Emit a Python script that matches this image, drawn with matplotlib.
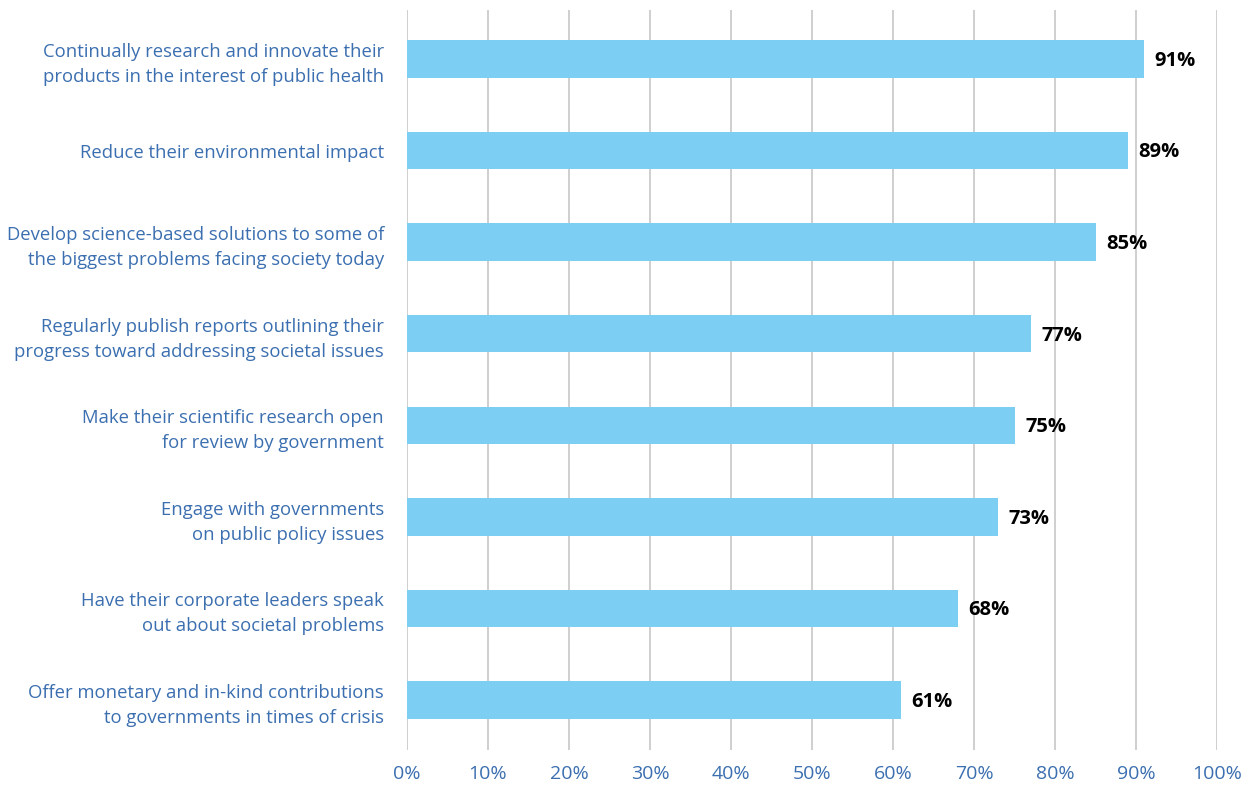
import matplotlib.pyplot as plt

# Share of respondents who say companies should ...
labels = [
    'Continually research and innovate their\nproducts in the interest of public health',
    'Reduce their environmental impact',
    'Develop science-based solutions to some of\nthe biggest problems facing society today',
    'Regularly publish reports outlining their\nprogress toward addressing societal issues',
    'Make their scientific research open\nfor review by government',
    'Engage with governments\non public policy issues',
    'Have their corporate leaders speak\nout about societal problems',
    'Offer monetary and in-kind contributions\nto governments in times of crisis',
]
values = [91, 89, 85, 77, 75, 73, 68, 61]
ticks = [0, 10, 20, 30, 40, 50, 60, 70, 80, 90, 100]

bar_color = '#7dcef3'
text_blue = '#3b6fb0'

plt.rcParams['font.family'] = ['Open Sans', 'DejaVu Sans']

fig = plt.figure(figsize=(12.5, 7.85), dpi=100)
ax = fig.add_axes([407 / 1250, 35 / 785, 810 / 1250, 740 / 785])

pos = list(range(len(values)))
ax.barh(pos, values, height=0.41, color=bar_color, zorder=2)

for p, v in zip(pos, values):
    ax.text(v + 1.3, p + 0.02, f'{v}%', va='center', ha='left', fontsize=14.5,
            fontweight='bold', color='black')

ax.set_xlim(0, 100)
ax.set_ylim(7.546, -0.535)
ax.set_xticks(ticks)
ax.set_xticklabels([f'{t}%' for t in ticks], color=text_blue, fontsize=14)
ax.set_yticks(pos)
ax.set_yticklabels(labels, color=text_blue, fontsize=13.3, linespacing=1.5)
ax.tick_params(axis='both', length=0)
ax.tick_params(axis='y', pad=16.5)
ax.tick_params(axis='x', pad=11)

for t in ticks:
    ax.axvline(t, color='#cccccc', linewidth=1.3, zorder=1)

for s in ax.spines.values():
    s.set_visible(False)

fig.savefig('out.png', dpi=100)
